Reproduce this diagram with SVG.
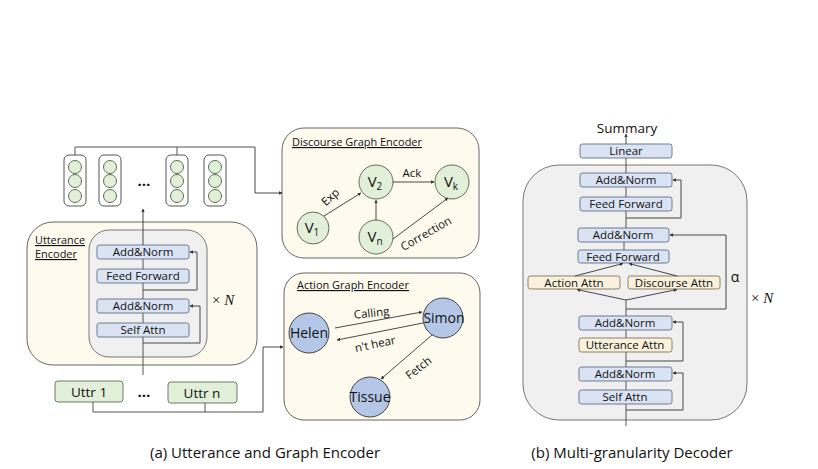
<svg xmlns="http://www.w3.org/2000/svg" width="818" height="469" viewBox="0 0 818 469">
<defs>
<marker id="ah" viewBox="0 0 6 6" refX="5.5" refY="3" markerWidth="4" markerHeight="4" orient="auto"><path d="M0,0 L6,3 L0,6 z" fill="#333"/></marker>
<style>
text{font-family:"Open Sans","Liberation Sans",sans-serif;fill:#111}
.panel{fill:#FEFBEE;stroke:#666;stroke-width:1}
.gray{fill:#F0F0F0;stroke:#777;stroke-width:1}
.blue{fill:#DAE3F3;stroke:#6C7A91;stroke-width:1}
.beige{fill:#FAF1DC;stroke:#8A8165;stroke-width:1}
.gcol{fill:#fff;stroke:#555;stroke-width:1}
.gc{fill:#E2F0D9;stroke:#5E7052;stroke-width:1}
.gb{fill:#E2F0D9;stroke:#6B7D60;stroke-width:1}
.bc{fill:#B4C7E7;stroke:#444;stroke-width:1}
.ln{fill:none;stroke:#555;stroke-width:1}
.arr{fill:none;stroke:#333;stroke-width:0.9;marker-end:url(#ah)}
.bt{font-size:11.5px;text-anchor:middle}
.nt{font-size:14px;text-anchor:middle}
.vt{font-size:15px;text-anchor:middle}
.lt{font-size:11.5px;text-anchor:middle}
.title{font-size:11.5px;text-decoration:underline}
.cap{font-size:15px;text-anchor:middle}
.dots{font-size:15px;font-weight:bold;text-anchor:middle}
.xn{font-family:"Liberation Serif",serif;font-size:15px}
</style>
</defs>
<rect width="818" height="469" fill="#fff"/>

<!-- Utterance encoder panel -->
<g id="utterance-encoder">
<rect class="panel" x="27" y="222" width="230" height="143" rx="26"/>
<text class="title" x="35" y="244" textLength="50" lengthAdjust="spacingAndGlyphs">Utterance</text>
<text class="title" x="35" y="258" textLength="42" lengthAdjust="spacingAndGlyphs">Encoder</text>
<rect class="gray" x="89" y="230" width="118" height="127" rx="20"/>
</g>
<g id="enc-addnorm1"><rect class="blue" x="97" y="245" width="92" height="14" rx="2.5"/><text class="bt" x="143" y="256">Add&amp;Norm</text></g>
<g id="enc-ff"><rect class="blue" x="97" y="269" width="92" height="14" rx="2.5"/><text class="bt" x="143" y="280">Feed Forward</text></g>
<g id="enc-addnorm2"><rect class="blue" x="97" y="299" width="92" height="14" rx="2.5"/><text class="bt" x="143" y="310">Add&amp;Norm</text></g>
<g id="enc-selfattn"><rect class="blue" x="97" y="323" width="92" height="14" rx="2.5"/><text class="bt" x="143" y="334">Self Attn</text></g>
<text class="xn" x="212" y="305">× <tspan font-style="italic">N</tspan></text>

<!-- vector columns -->
<g id="vec1"><rect class="gcol" x="64" y="155" width="22" height="51" rx="5"/><circle class="gc" cx="75" cy="167" r="6.5"/><circle class="gc" cx="75" cy="181" r="6.5"/><circle class="gc" cx="75" cy="196" r="6.5"/></g>
<g id="vec2"><rect class="gcol" x="99" y="155" width="22" height="51" rx="5"/><circle class="gc" cx="110" cy="167" r="6.5"/><circle class="gc" cx="110" cy="181" r="6.5"/><circle class="gc" cx="110" cy="196" r="6.5"/></g>
<text class="dots" x="144" y="186">…</text>
<g id="vec3"><rect class="gcol" x="166" y="155" width="22" height="51" rx="5"/><circle class="gc" cx="177" cy="167" r="6.5"/><circle class="gc" cx="177" cy="181" r="6.5"/><circle class="gc" cx="177" cy="196" r="6.5"/></g>
<g id="vec4"><rect class="gcol" x="204" y="155" width="22" height="51" rx="5"/><circle class="gc" cx="215" cy="167" r="6.5"/><circle class="gc" cx="215" cy="181" r="6.5"/><circle class="gc" cx="215" cy="196" r="6.5"/></g>

<!-- utterances -->
<g id="uttr1"><rect class="gb" x="55" y="381" width="68" height="21" rx="3"/><text x="89" y="397" font-size="13.5" text-anchor="middle">Uttr 1</text></g>
<text class="dots" x="144" y="397">…</text>
<g id="uttrn"><rect class="gb" x="168" y="382" width="69" height="21" rx="3"/><text x="202" y="398" font-size="13.5" text-anchor="middle">Uttr n</text></g>

<!-- Discourse graph encoder -->
<g id="discourse-graph-encoder">
<rect class="panel" x="282" y="128" width="197" height="130" rx="22"/>
<text class="title" x="292" y="146" textLength="130" lengthAdjust="spacingAndGlyphs">Discourse Graph Encoder</text>
</g>
<g id="v1"><circle class="gc" cx="313" cy="228" r="16"/><text class="vt" x="312" y="233">V<tspan font-size="10" dy="3">1</tspan></text></g>
<g id="v2"><circle class="gc" cx="376" cy="182" r="17"/><text class="vt" x="375" y="187">V<tspan font-size="10" dy="3">2</tspan></text></g>
<g id="vk"><circle class="gc" cx="452" cy="182" r="17"/><text class="vt" x="451" y="187">V<tspan font-size="10" dy="3">k</tspan></text></g>
<g id="vn"><circle class="gc" cx="376" cy="237" r="17"/><text class="vt" x="375" y="242">V<tspan font-size="10" dy="3">n</tspan></text></g>

<!-- Action graph encoder -->
<g id="action-graph-encoder">
<rect class="panel" x="284" y="273" width="196" height="147" rx="20"/>
<text class="title" x="297" y="289" textLength="112" lengthAdjust="spacingAndGlyphs">Action Graph Encoder</text>
</g>
<g id="helen"><circle class="bc" cx="309" cy="333" r="20"/><text class="nt" x="309" y="338">Helen</text></g>
<g id="simon"><circle class="bc" cx="443" cy="318" r="20"/><text class="nt" x="444" y="323">Simon</text></g>
<g id="tissue"><circle class="bc" cx="370" cy="397" r="20"/><text class="nt" x="370" y="402">Tissue</text></g>

<!-- Decoder -->
<g id="decoder">
<rect class="gray" x="523" y="165" width="224" height="255" rx="36"/>
<text x="627" y="133" font-size="13.5" text-anchor="middle">Summary</text>
<text x="735" y="282" font-size="14" text-anchor="middle">α</text>
<text class="xn" x="751" y="303">× <tspan font-style="italic">N</tspan></text>
</g>
<g id="dec-linear"><rect class="blue" x="580" y="144" width="92" height="14" rx="2.5"/><text class="bt" x="626" y="155">Linear</text></g>
<g id="dec-addnorm1"><rect class="blue" x="580" y="173" width="92" height="14" rx="2.5"/><text class="bt" x="626" y="184">Add&amp;Norm</text></g>
<g id="dec-ff1"><rect class="blue" x="580" y="197" width="92" height="14" rx="2.5"/><text class="bt" x="626" y="208">Feed Forward</text></g>
<g id="dec-addnorm2"><rect class="blue" x="578" y="228" width="91" height="14" rx="2.5"/><text class="bt" x="623" y="239">Add&amp;Norm</text></g>
<g id="dec-ff2"><rect class="blue" x="578" y="250" width="91" height="13" rx="2.5"/><text class="bt" x="623" y="260.5">Feed Forward</text></g>
<g id="dec-action"><rect class="beige" x="528" y="276" width="92" height="13" rx="2.5"/><text class="bt" x="574" y="286.5">Action Attn</text></g>
<g id="dec-discourse"><rect class="beige" x="628" y="276" width="92" height="13" rx="2.5"/><text class="bt" x="674" y="286.5">Discourse Attn</text></g>
<g id="dec-addnorm3"><rect class="blue" x="579" y="316" width="93" height="14" rx="2.5"/><text class="bt" x="625" y="327">Add&amp;Norm</text></g>
<g id="dec-uttattn"><rect class="beige" x="579" y="338" width="93" height="14" rx="2.5"/><text class="bt" x="625" y="349">Utterance Attn</text></g>
<g id="dec-addnorm4"><rect class="blue" x="579" y="367" width="93" height="14" rx="2.5"/><text class="bt" x="625" y="378">Add&amp;Norm</text></g>
<g id="dec-selfattn"><rect class="blue" x="579" y="390" width="93" height="14" rx="2.5"/><text class="bt" x="625" y="401">Self Attn</text></g>

<!-- captions -->
<text class="cap" x="265" y="458">(a) Utterance and Graph Encoder</text>
<text class="cap" x="632" y="458">(b) Multi-granularity Decoder</text>

<!-- connectors -->
<g id="connectors">
<path class="ln" d="M143,375 V337 M143,323 V313 M143,299 V283 M143,269 V259"/>
<path class="arr" d="M143,245 V209"/>
<path class="arr" d="M143,290 H197 V252 H190"/>
<path class="arr" d="M143,343 H200 V306 H190"/>
<path class="ln" d="M75,155 V147 H255 M177,147 V155"/>
<path class="arr" d="M255,147 V193 H282"/>
<path class="ln" d="M93,402 V412 H263 M205,403 V412"/>
<path class="arr" d="M263,412 V347 H283"/>
<path class="arr" d="M324,216 L361,193"/>
<path class="arr" d="M393,182 H434"/>
<path class="arr" d="M376,220 V200"/>
<path class="arr" d="M393,239 L448,198"/>
<text class="lt" transform="translate(333,200) rotate(-42)">Exp</text>
<text class="lt" x="412" y="177">Ack</text>
<text class="lt" transform="translate(428,237) rotate(-30)">Correction</text>
<path class="arr" d="M335,328 L422,312"/>
<path class="arr" d="M423,323 L337,340"/>
<path class="arr" d="M432,335 L381,379"/>
<text class="lt" transform="translate(372,317) rotate(-6)">Calling</text>
<text class="lt" transform="translate(376,348) rotate(-12)">n't hear</text>
<text class="lt" transform="translate(421,371) rotate(-38)">Fetch</text>
<path class="ln" d="M626,426 V404 M626,390 V381 M626,367 V352 M626,338 V330 M626,316 V300"/>
<path class="arr" d="M626,300 L577,289.5"/>
<path class="arr" d="M626,300 L677,289.5"/>
<path class="arr" d="M575,276 L623,263.5"/>
<path class="arr" d="M677,276 L629,263.5"/>
<path class="arr" d="M626,410 H683 V373 H673"/>
<path class="arr" d="M626,361 H683 V322 H673"/>
<path class="arr" d="M626,309 H726 V235 H670"/>
<path class="ln" d="M624,250 V242 M626,228 V211 M626,197 V187 M626,173 V158"/>
<path class="arr" d="M626,218 H681 V180 H673"/>
<path class="arr" d="M626,144 V134"/>
</g>
</svg>
